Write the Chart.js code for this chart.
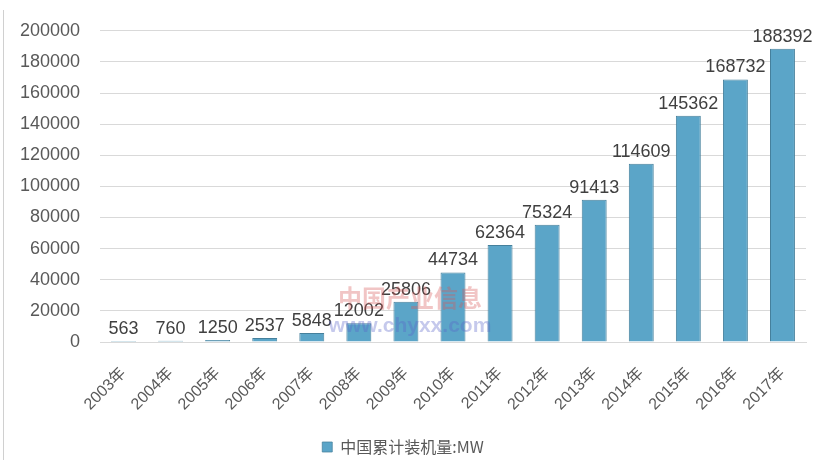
<!DOCTYPE html>
<html>
<head>
<meta charset="utf-8">
<script src="https://cdn.jsdelivr.net/npm/chart.js@4"></script>
<style>
  html, body { margin: 0; padding: 0; background: #fff; }
  #wrap { position: relative; width: 826px; height: 460px; }
  #edge { position: absolute; left: 3px; top: 10px; width: 1px; height: 450px; background: #d0d0d0; }
</style>
</head>
<body>
<div id="wrap">
  <div id="edge"></div>
  <canvas id="myChart" width="826" height="460"></canvas>
</div>
<script>
var years = ['2003年','2004年','2005年','2006年','2007年','2008年','2009年','2010年','2011年','2012年','2013年','2014年','2015年','2016年','2017年'];
var capacity = [563, 760, 1250, 2537, 5848, 12002, 25806, 44734, 62364, 75324, 91413, 114609, 145362, 168732, 188392];
var seriesName = '中国累计装机量:MW';

// numbers on top of the bars + faint site watermark
var barLabels = {
  id: 'barLabels',
  afterDatasetsDraw: function(chart){
    var ctx = chart.ctx;
    var meta = chart.getDatasetMeta(0);
    ctx.save();
    ctx.font = '18px "Liberation Sans", "DejaVu Sans", sans-serif';
    ctx.fillStyle = '#404040';
    ctx.textAlign = 'center';
    ctx.textBaseline = 'bottom';
    meta.data.forEach(function(bar, i){
      ctx.fillText(capacity[i], bar.x, bar.y - 3);
    });
    ctx.textBaseline = 'middle';
    ctx.font = 'bold 24px "Noto Sans CJK SC", sans-serif';
    ctx.fillStyle = 'rgba(215, 90, 90, 0.35)';
    ctx.fillText('中国产业信息', 410, 298);
    ctx.font = 'bold 21px "Liberation Sans", sans-serif';
    ctx.fillStyle = 'rgba(90, 100, 200, 0.35)';
    ctx.fillText('www.chyxx.com', 410, 326);
    ctx.restore();
  }
};

var ctx = document.getElementById('myChart');
var myChart = new Chart(ctx, {
  type: 'bar',
  data: {
    labels: years,
    datasets: [{
      label: seriesName,
      data: capacity,
      backgroundColor: '#5ba5c8',
      borderColor: '#45809c',
      borderWidth: {left: 1, right: 1, top: 1, bottom: 0},
      barPercentage: 0.53,
      categoryPercentage: 1.0
    }]
  },
  plugins: [barLabels],
  options: {
    responsive: false,
    animation: false,
    layout: { padding: { left: 0, right: 20, top: 22, bottom: -5 } },
    plugins: {
      legend: {
        position: 'bottom',
        labels: {
          boxWidth: 10,
          boxHeight: 10,
          padding: 10,
          color: '#595959',
          font: { size: 16, family: '"Noto Sans CJK SC", sans-serif' }
        }
      },
      tooltip: { enabled: false }
    },
    scales: {
      x: {
        grid: { display: false },
        border: { color: '#d9d9d9' },
        afterFit: function(scale){ scale.height = 87; },
        ticks: {
          minRotation: 45,
          maxRotation: 45,
          padding: 14,
          color: '#595959',
          font: { size: 16, family: '"Liberation Sans", "Noto Sans CJK SC", sans-serif' }
        }
      },
      y: {
        min: 0,
        max: 200000,
        grid: { color: '#d9d9d9', drawTicks: false },
        border: { display: false },
        afterFit: function(scale){ scale.width = 100; },
        ticks: {
          stepSize: 20000,
          padding: 20,
          color: '#595959',
          font: { size: 18, family: '"Liberation Sans", sans-serif' },
          callback: function(v){ return String(v); }
        }
      }
    }
  }
});
</script>
</body>
</html>
